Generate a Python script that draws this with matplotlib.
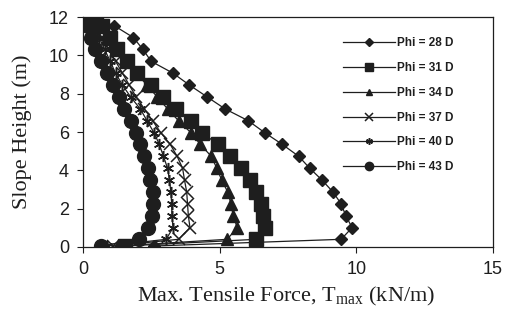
import matplotlib
matplotlib.use('Agg')
from matplotlib import pyplot as plt

# Layer heights (m), shared by all curves; last value is the toe point
height = [11.8, 11.55, 10.93, 10.31, 9.69, 9.07, 8.45, 7.83, 7.21, 6.59, 5.97,
          5.35, 4.73, 4.11, 3.49, 2.87, 2.25, 1.63, 1.01, 0.40, 0.05]

# Max. tensile force (kN/m) for each friction angle
phi_28 = [0.6, 1.15, 1.85, 2.2, 2.5, 3.3, 3.9, 4.55, 5.2, 6.05, 6.65,
          7.3, 7.9, 8.3, 8.75, 9.15, 9.45, 9.62, 9.85, 9.45, 2.6]
phi_31 = [0.5, 0.7, 1.0, 1.25, 1.6, 2.0, 2.5, 2.95, 3.4, 3.95, 4.35,
          4.95, 5.4, 5.8, 6.1, 6.35, 6.5, 6.6, 6.68, 6.35, 1.55]
phi_34 = [0.4, 0.55, 0.9, 1.25, 1.6, 1.95, 2.35, 2.72, 3.1, 3.5, 3.95,
          4.3, 4.7, 4.9, 5.08, 5.3, 5.42, 5.5, 5.65, 5.28, 1.3]
phi_37 = [0.35, 0.45, 0.7, 0.95, 1.2, 1.45, 1.7, 1.95, 2.25, 2.55, 2.85,
          3.2, 3.45, 3.65, 3.72, 3.8, 3.83, 3.86, 3.92, 3.5, 1.1]
phi_40 = [0.3, 0.4, 0.6, 0.8, 1.0, 1.2, 1.45, 1.75, 2.1, 2.35, 2.6,
          2.8, 2.95, 3.1, 3.17, 3.22, 3.25, 3.26, 3.3, 3.05, 0.9]
phi_43 = [0.25, 0.2, 0.3, 0.45, 0.65, 0.9, 1.1, 1.32, 1.5, 1.75, 1.95,
          2.1, 2.25, 2.38, 2.47, 2.55, 2.58, 2.52, 2.4, 2.05, 0.65]

labels = ['Phi = 28 D', 'Phi = 31 D', 'Phi = 34 D',
          'Phi = 37 D', 'Phi = 40 D', 'Phi = 43 D']
series = [phi_28, phi_31, phi_34, phi_37, phi_40, phi_43]

x_ticks = [0, 5, 10, 15]
y_ticks = [0, 2, 4, 6, 8, 10, 12]

ink = '#1e1e1e'
styles = [
    dict(marker='D', ms=6.5),
    dict(marker='s', ms=9.5),
    dict(marker='^', ms=8),
    dict(marker='x', ms=8.5, mew=1.1),
    dict(marker=(6, 2, 0), ms=8, mew=1.1),
    dict(marker='o', ms=10),
]

fig = plt.figure(figsize=(5.05, 3.22), dpi=100)
ax = fig.add_axes([0.164, 0.233, 0.812, 0.714])

for xs, lab, st in zip(series, labels, styles):
    ax.plot(xs, height, color=ink, lw=0.9, mfc=ink, mec=ink, label=lab, **st)

ax.set_xlim(0, 15)
ax.set_ylim(0, 12)
ax.set_xticks(x_ticks)
ax.set_yticks(y_ticks)
ax.tick_params(direction='out', length=4, width=0.8, pad=6,
               labelsize=13, labelfontfamily='Liberation Sans', colors=ink)
for sp in ax.spines.values():
    sp.set_linewidth(0.9)
    sp.set_color(ink)

ax.set_xlabel('Max. Tensile Force, T$_{\\mathregular{max}}$ (kN/m)',
              family='Liberation Serif', fontsize=16, color=ink)
ax.set_ylabel('Slope Height (m)', family='Liberation Serif', fontsize=16, color=ink)
ax.xaxis.set_label_coords(0.495, -0.165)
ax.yaxis.set_label_coords(-0.125, 0.5)

leg = ax.legend(loc='center left', bbox_to_anchor=(0.634, 0.616), frameon=False,
                prop={'family': 'Liberation Sans', 'weight': 'bold', 'size': 8.5},
                handlelength=4.4, handletextpad=0.2, labelspacing=1.08,
                borderaxespad=0, borderpad=0, markerscale=0.6)
for t in leg.get_texts():
    t.set_color(ink)

fig.savefig('out.png', dpi=100)
